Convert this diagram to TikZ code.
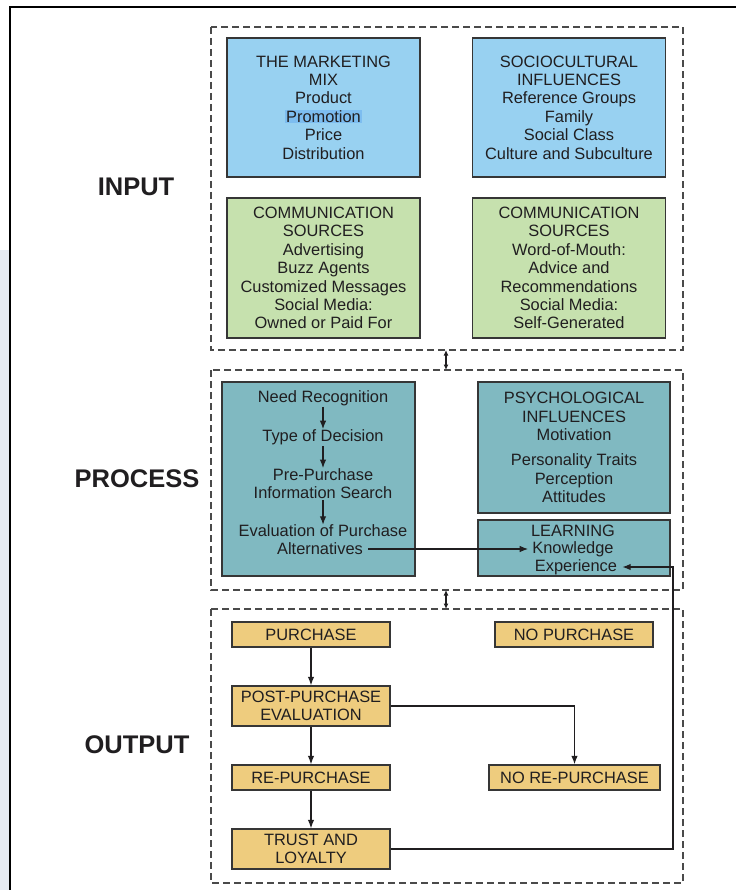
\documentclass[tikz,border=0pt]{standalone}
\usepackage{fontspec}
\setmainfont{Liberation Sans}
\usetikzlibrary{arrows.meta}

\definecolor{ink}{HTML}{201E20}
\definecolor{edge}{HTML}{363636}
\definecolor{mixblue}{HTML}{98D1F1}
\definecolor{hlblue}{HTML}{7DBDF0}
\definecolor{srcgreen}{HTML}{C6E1AE}
\definecolor{proteal}{HTML}{80B9C1}
\definecolor{outtan}{HTML}{EECC7E}
\definecolor{dashgray}{HTML}{4A4A4A}
\definecolor{sidestrip}{HTML}{E6EAF2}

\newcommand{\bodytext}{\fontsize{16.4}{18.4}\selectfont}

\tikzset{
  every node/.style={text=ink},
  panel/.style={draw=edge, line width=1.4pt, inner sep=0pt, align=center, font=\bodytext},
  inputbox/.style={panel, fill=mixblue, minimum width=193pt, minimum height=139pt},
  sourcebox/.style={panel, fill=srcgreen, minimum width=193pt, minimum height=140pt},
  processbox/.style={panel, fill=proteal},
  outbox/.style={panel, fill=outtan, minimum width=158pt},
  label/.style={inner sep=0pt, align=center, font=\bodytext},
  stage/.style={inner sep=0pt, font=\fontsize{25.5}{27}\selectfont\bfseries},
  group/.style={draw=dashgray, line width=1.4pt, dash pattern=on 7pt off 4pt},
  flow/.style={draw=ink, line width=1.2pt, -{Latex[length=8.5pt,width=6.5pt]}},
  link/.style={draw=ink, line width=1.2pt, {Latex[length=5.5pt,width=5pt]}-{Latex[length=5.5pt,width=5pt]}}
}

\begin{document}
\begin{tikzpicture}[x=1pt, y=-1pt]
\useasboundingbox (0,0) rectangle (736,890);

% page edge and frame
\fill[sidestrip] (0,250) rectangle (9,890);
\draw[black, line width=2.2pt] (10,890) -- (10,7) -- (736,7);

% stage labels
\node[stage] (inlabel)  at (136,187) {INPUT};
\node[stage] (prolabel) at (137,479) {PROCESS};
\node[stage] (outlabel) at (137,745) {OUTPUT};

% dashed groups
\draw[group] (211,27) rectangle (683,350);
\draw[group] (211,370) rectangle (683,590);
\draw[group] (211,609) rectangle (683,883);
\coordinate (g1b) at (446,350);
\coordinate (g2t) at (446,370);
\coordinate (g2b) at (446,590);
\coordinate (g3t) at (446,609);
\draw[link] (g1b) -- (g2t);
\draw[link] (g2b) -- (g3t);

% ---- input ----
\node[inputbox] (mix) at (323.5,107.5) {THE MARKETING\\MIX\\Product\\{\fboxsep=0.8pt\colorbox{hlblue}{Promotion}}\\Price\\Distribution};
\node[inputbox] (socio) at (569,107.5) {SOCIOCULTURAL\\INFLUENCES\\Reference Groups\\Family\\Social Class\\Culture and Subculture};
\node[sourcebox] (paid) at (323.5,268) {COMMUNICATION\\SOURCES\\Advertising\\Buzz Agents\\Customized Messages\\Social Media:\\Owned or Paid For};
\node[sourcebox] (wom) at (569,268) {COMMUNICATION\\SOURCES\\Word-of-Mouth:\\Advice and\\Recommendations\\Social Media:\\Self-Generated};

% ---- process ----
\node[processbox, minimum width=193pt, minimum height=194pt] (decision) at (318.5,479) {};
\node[label] (need) at (323,398) {Need Recognition};
\node[label] (type) at (323,437) {Type of Decision};
\node[label] (search) at (323,483.5) {Pre-Purchase\\Information Search};
\node[label] (evalp) at (323,531) {Evaluation of Purchase};
\node[label] (alts) at (320,549) {Alternatives};
\draw[flow] (need.south) ++(0,1) coordinate (n1) (n1) -- (type.north);
\draw[flow] (type) ++(0,9) coordinate (t1) (t1) -- (search.north);
\draw[flow] (search.south) ++(0,1) coordinate (s1) (s1) -- (evalp.north);

\node[processbox, minimum width=192pt, minimum height=131pt] (psych) at (574,447.5)
  {PSYCHOLOGICAL\\INFLUENCES\\Motivation\\[7pt]Personality Traits\\Perception\\Attitudes};
\node[processbox, minimum width=192pt, minimum height=56pt] (learnbox) at (574,548) {};
\node[label] (learn) at (573,531) {LEARNING};
\node[label] (know) at (573,549) {Knowledge};
\node[label] (exper) at (576,567) {Experience};
\draw[flow] ([xshift=5pt]alts.east) -- ([xshift=-4pt]know.west);

% ---- output ----
\node[outbox, minimum height=25pt] (buy) at (311,634.5) {PURCHASE};
\node[outbox, minimum height=25pt] (nobuy) at (574,634.5) {NO PURCHASE};
\node[outbox, minimum height=40pt] (post) at (311,706) {POST-PURCHASE\\EVALUATION};
\node[outbox, minimum height=25pt] (rebuy) at (311,777.5) {RE-PURCHASE};
\node[outbox, minimum height=25pt, minimum width=171pt] (norebuy) at (574.5,777.5) {NO RE-PURCHASE};
\node[outbox, minimum height=40pt] (trust) at (311,849) {TRUST AND\\LOYALTY};

\draw[flow] (buy) -- (post);
\draw[flow] (post) -- (rebuy);
\draw[flow] (rebuy) -- (trust);
\draw[flow] (post.east) -| (norebuy.north);
\coordinate (loopcorner) at (673,849);
\draw[flow] (trust.east) -- (loopcorner) |- ([xshift=5pt]exper.east);
\end{tikzpicture}
\end{document}
